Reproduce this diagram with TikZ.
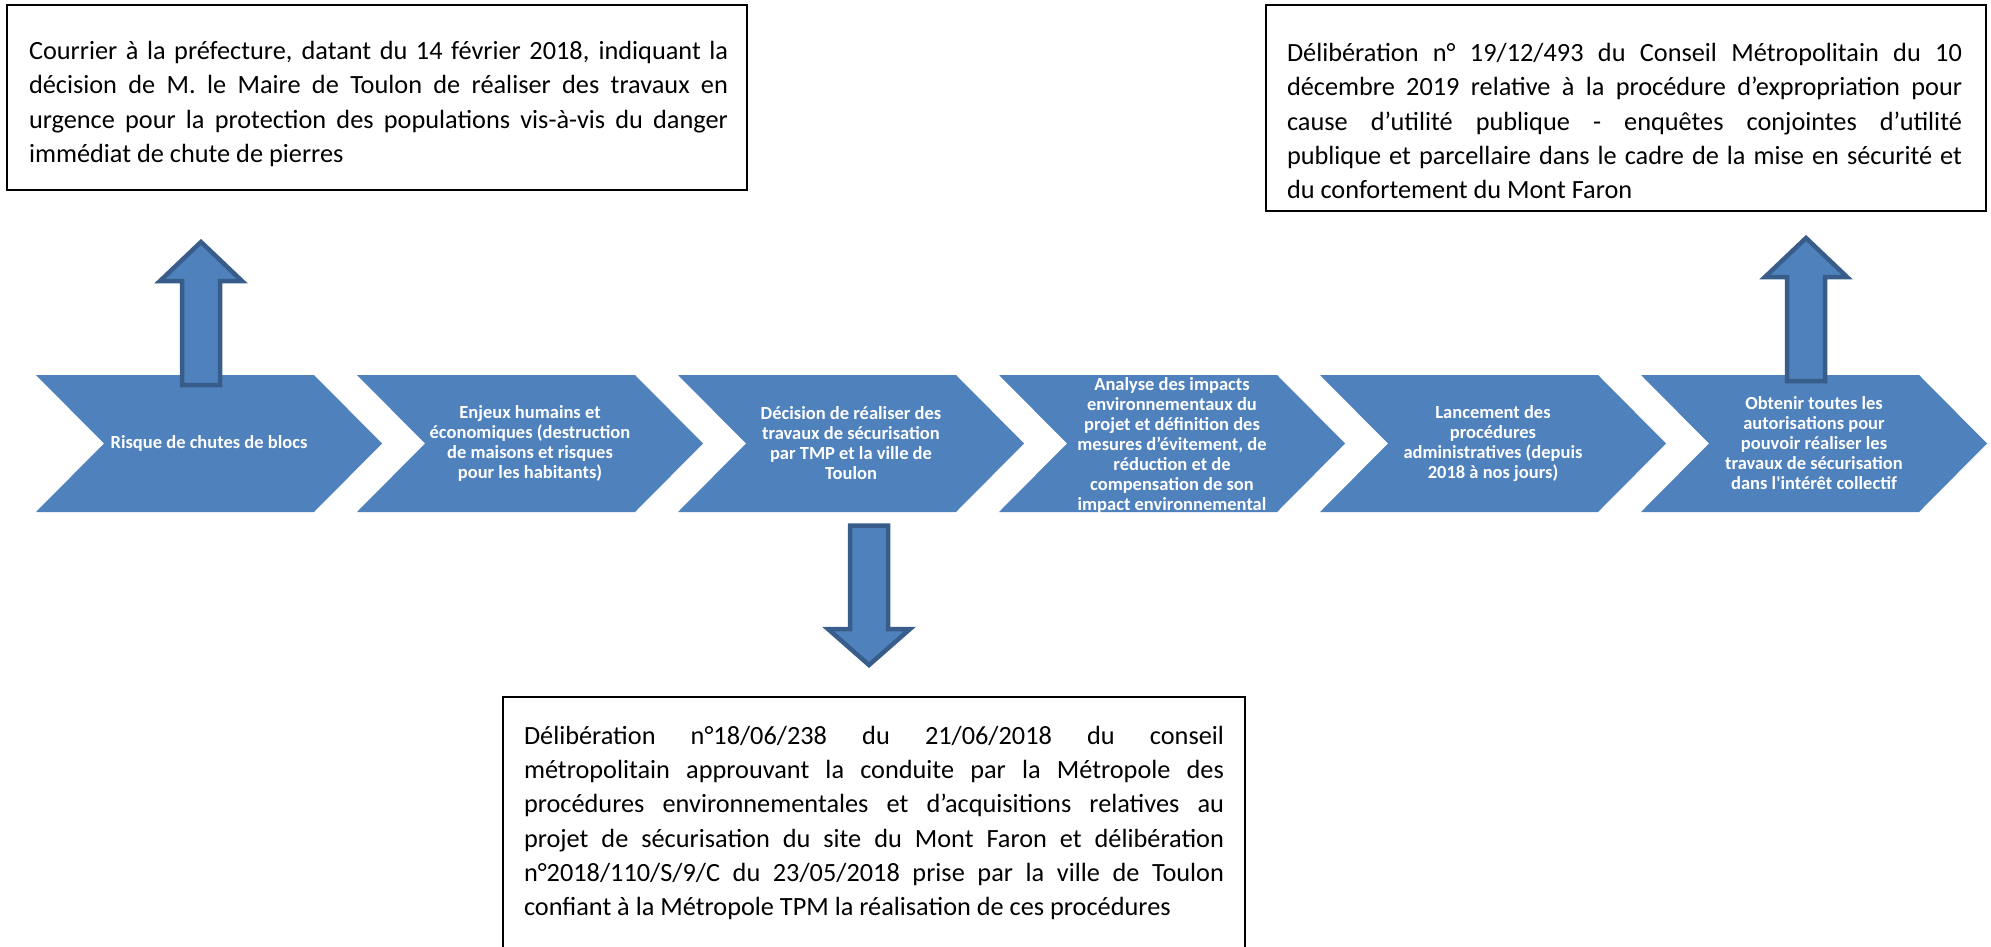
\documentclass[tikz,border=0pt]{standalone}
\usepackage{fontspec}
\setmainfont{Carlito}
\usetikzlibrary{positioning}
\definecolor{StepBlue}{RGB}{79,129,189}
\definecolor{StepEdge}{RGB}{56,93,138}
\tikzset{
  chevron/.style={fill=StepBlue},
  steptext/.style={text=white,align=center,inner sep=0pt,
    font=\fontsize{18.5}{20}\selectfont\bfseries},
  blockarrow/.style={fill=StepBlue,draw=StepEdge,line width=4.5pt,line join=miter},
  notebox/.style={draw=black,line width=1.8pt,inner sep=0pt},
  notetext/.style={align=justify,inner sep=0pt,
    font=\fontsize{26.3}{34.3}\selectfont,
    execute at begin node={\hyphenpenalty=10000\tolerance=10000\relax}}
}

\begin{document}
\begin{tikzpicture}[x=1pt,y=-1pt]
  \useasboundingbox (0,0) rectangle (1991,947);
  % process chevrons
  \foreach \xa in {36,357,678,999,1320,1641}
    \fill[chevron] (\xa,375) -- ++(278,0) -- ++(68,68.5) -- ++(-68,68.5)
      -- ++(-278,0) -- ++(68,-68.5) -- cycle;
  \node[steptext] (risque) at (209,443.5) {Risque de chutes de blocs};
  \node[steptext] (enjeux) at (530,443.5) {Enjeux humains et\\économiques (destruction\\de maisons et risques\\pour les habitants)};
  \node[steptext] (decision) at (851,443.5) {Décision de réaliser des\\travaux de sécurisation\\par TMP et la ville de\\Toulon};
  \node[steptext] (analyse) at (1172,445) {Analyse des impacts\\environnementaux du\\projet et définition des\\mesures d’évitement, de\\réduction et de\\compensation de son\\impact environnemental};
  \node[steptext] (lancement) at (1493,443.5) {Lancement des\\procédures\\administratives (depuis\\2018 à nos jours)};
  \node[steptext] (obtenir) at (1814,443.5) {Obtenir toutes les\\autorisations pour\\pouvoir réaliser les\\travaux de sécurisation\\dans l\textquotesingle intérêt collectif};
  % block arrows
  \draw[blockarrow] (182,385) -- (182,281) -- (160,281) -- (201,242)
    -- (242,281) -- (220,281) -- (220,385) -- cycle;
  \draw[blockarrow] (1787,381) -- (1787,277) -- (1765,277) -- (1806,238)
    -- (1847,277) -- (1825,277) -- (1825,381) -- cycle;
  \draw[blockarrow] (850,525.5) -- (888,525.5) -- (888,629) -- (910,629)
    -- (869,665) -- (828,629) -- (850,629) -- cycle;
  % notes
  \node[notebox,minimum width=740pt,minimum height=185pt] (courrier) at (377,97.5) {};
  \node[notetext,text width=699pt] (courriertxt) at (378.5,104) {Courrier à la préfecture, datant du 14 février 2018, indiquant la\linebreak
    décision de M. le Maire de Toulon de réaliser des travaux en\linebreak
    urgence pour la protection des populations vis-à-vis du danger\linebreak
    immédiat de chute de pierres};
  \node[notebox,minimum width=720pt,minimum height=206pt] (expro) at (1626,108) {};
  \node[notetext,text width=675pt] (exprotxt) at (1624.5,121) {Délibération n° 19/12/493 du Conseil Métropolitain du 10\linebreak
    décembre 2019 relative à la procédure d’expropriation pour\linebreak
    cause d’utilité publique - enquêtes conjointes d’utilité\linebreak
    publique et parcellaire dans le cadre de la mise en sécurité et\linebreak
    du confortement du Mont Faron};
  \node[notebox,minimum width=742pt,minimum height=303pt] (deliberation) at (874,848.5) {};
  \node[notetext,text width=700pt] (deliberationtxt) at (874,823) {Délibération n°18/06/238 du 21/06/2018 du conseil\linebreak
    métropolitain approuvant la conduite par la Métropole des\linebreak
    procédures environnementales et d’acquisitions relatives au\linebreak
    projet de sécurisation du site du Mont Faron et délibération\linebreak
    n°2018/110/S/9/C du 23/05/2018 prise par la ville de Toulon\linebreak
    confiant à la Métropole TPM la réalisation de ces procédures};
\end{tikzpicture}
\end{document}
